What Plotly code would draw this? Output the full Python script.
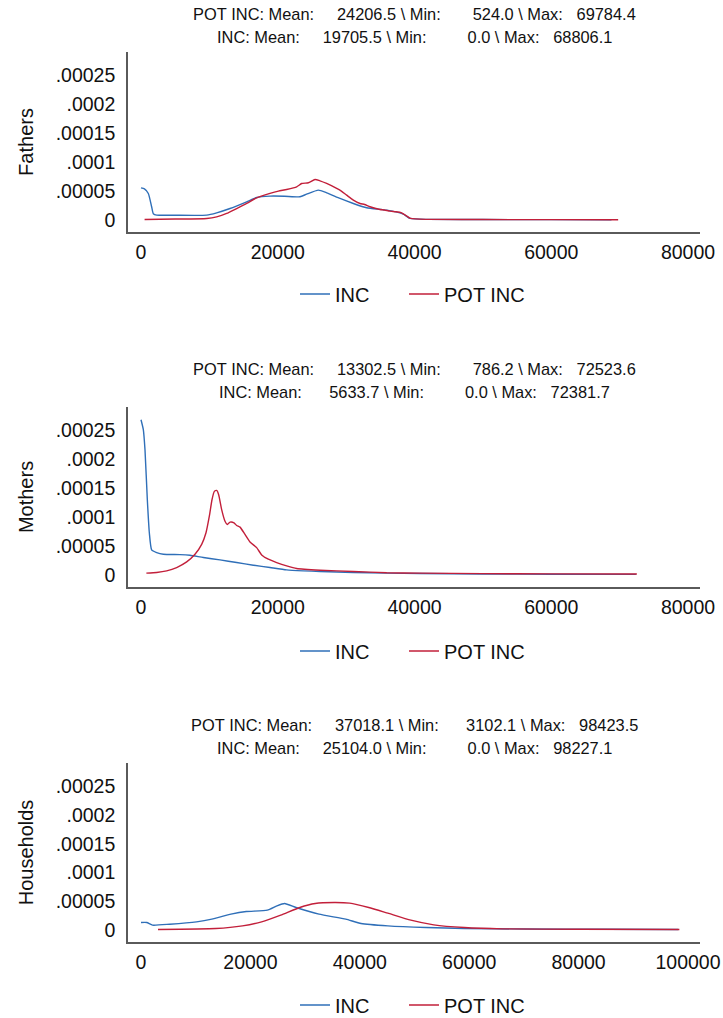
import plotly.graph_objects as go

W, H = 723, 1018

panel_names = ["Fathers", "Mothers", "Households"]

# ---- Fathers ----
fathers_inc_x = [0, 500, 1072, 1560, 1804, 2300, 5000, 9604, 11067, 13016, 15454, 16917, 18866, 21000, 23254, 24229,
                 25935, 27154, 29104, 31054, 33004, 35929, 38366, 39341, 42000, 50000, 60000, 68806.1]
fathers_inc_y = [5.57e-5, 5.4e-5, 4.6e-5, 2.3e-5, 1.1e-5, 8.6e-6, 8.4e-6, 8.6e-6, 1.26e-5, 2.0e-5, 3.16e-5, 3.9e-5,
                 4.14e-5, 4.12e-5, 4.02e-5, 4.48e-5, 5.17e-5, 4.71e-5, 3.74e-5, 2.87e-5, 2.13e-5, 1.72e-5, 1.03e-5,
                 2.9e-6, 1.2e-6, 1.0e-6, 8e-7, 7e-7]
fathers_pot_x = [524.0, 5000, 9604, 11067, 12529, 13991, 15454, 16917, 18866, 20100, 21304, 22767, 23498, 24473,
                 25448, 26179, 27154, 28616, 29300, 30079, 31054, 32029, 32700, 33491, 34954, 35600, 36416, 37300,
                 38123, 39439, 42000, 50000, 60000, 69784.4]
fathers_pot_y = [1.1e-6, 1.8e-6, 2.9e-6, 5.7e-6, 1.15e-5, 2.0e-5, 2.87e-5, 3.85e-5, 4.6e-5, 5.0e-5, 5.29e-5, 5.75e-5,
                 6.32e-5, 6.44e-5, 7.01e-5, 6.78e-5, 6.32e-5, 5.46e-5, 5.0e-5, 4.31e-5, 3.45e-5, 2.87e-5, 2.7e-5,
                 2.3e-5, 1.84e-5, 1.75e-5, 1.55e-5, 1.45e-5, 1.26e-5, 2.9e-6, 1.2e-6, 1.0e-6, 8e-7, 7e-7]

# ---- Mothers ----
mothers_inc_x = [0, 341, 585, 926, 1218, 1560, 2292, 3266, 5704, 7167, 9117, 11554, 13991, 16429, 18866, 21304,
                 23741, 26179, 31054, 35929, 40804, 50000, 60000, 72381.7]
mothers_inc_y = [2.68e-4, 2.51e-4, 2.16e-4, 1.30e-4, 7.3e-5, 4.34e-5, 3.88e-5, 3.6e-5, 3.54e-5, 3.42e-5, 3.03e-5,
                 2.63e-5, 2.17e-5, 1.71e-5, 1.31e-5, 9.1e-6, 7.4e-6, 6.3e-6, 4.6e-6, 3.4e-6, 2.8e-6, 2.0e-6,
                 1.6e-6, 1.2e-6]
mothers_pot_x = [786.2, 2292, 3754, 5216, 6679, 7898, 8873, 9507, 9994, 10384, 10725, 11067, 11359, 11798, 12285,
                 12626, 13016, 13601, 13991, 14479, 15210, 15941, 16917, 17648, 18623, 19841, 21304, 22767, 26179,
                 31054, 35929, 40804, 50000, 60000, 72523.6]
mothers_pot_y = [3.4e-6, 4.6e-6, 7.4e-6, 1.31e-5, 2.28e-5, 3.6e-5, 5.31e-5, 7.31e-5, 1.016e-4, 1.30e-4, 1.444e-4,
                 1.461e-4, 1.387e-4, 1.13e-4, 9.3e-5, 8.73e-5, 9.13e-5, 9.02e-5, 8.56e-5, 8.28e-5, 7.02e-5,
                 5.71e-5, 4.74e-5, 3.48e-5, 2.74e-5, 2.17e-5, 1.6e-5, 1.14e-5, 8.5e-6, 6.3e-6, 4.0e-6, 3.4e-6,
                 2.5e-6, 2.2e-6, 2.0e-6]

# ---- Households ----
households_inc_x = [0, 1058, 2108, 5256, 10153, 12951, 16450, 19249, 23092, 24842, 26242, 28340, 32541, 37437,
                    40236, 45133, 52128, 59120, 70000, 85000, 98227.1]
households_inc_y = [1.33e-5, 1.33e-5, 8.7e-6, 1.04e-5, 1.45e-5, 1.91e-5, 2.78e-5, 3.24e-5, 3.47e-5, 4.22e-5,
                    4.63e-5, 3.94e-5, 2.78e-5, 1.91e-5, 1.16e-5, 7.5e-6, 4.6e-6, 2.9e-6, 2.0e-6, 1.5e-6, 1.3e-6]
households_pot_x = [3102.1, 13650, 18550, 22047, 25543, 29042, 31839, 35341, 38139, 41638, 45133, 49333, 53529,
                    59120, 66121, 80000, 98423.5]
households_pot_y = [1.2e-6, 2.9e-6, 7.5e-6, 1.45e-5, 2.6e-5, 3.94e-5, 4.63e-5, 4.8e-5, 4.69e-5, 3.94e-5, 2.95e-5,
                    1.74e-5, 9.3e-6, 4.6e-6, 2.3e-6, 1.5e-6, 1.2e-6]

inc_x = [fathers_inc_x, mothers_inc_x, households_inc_x]
inc_y = [fathers_inc_y, mothers_inc_y, households_inc_y]
pot_x = [fathers_pot_x, mothers_pot_x, households_pot_x]
pot_y = [fathers_pot_y, mothers_pot_y, households_pot_y]

# summary statistics shown above each panel
pot_mean = [24206.5, 13302.5, 37018.1]
pot_min = [524.0, 786.2, 3102.1]
pot_max = [69784.4, 72523.6, 98423.5]
inc_mean = [19705.5, 5633.7, 25104.0]
inc_min = [0.0, 0.0, 0.0]
inc_max = [68806.1, 72381.7, 98227.1]

x_tickvals = [[0, 20000, 40000, 60000, 80000],
              [0, 20000, 40000, 60000, 80000],
              [0, 20000, 40000, 60000, 80000, 100000]]
y_tickvals = [0, 0.00005, 0.0001, 0.00015, 0.0002, 0.00025]
y_ticktext = ["0", ".00005", ".0001", ".00015", ".0002", ".00025"]

series_names = ["INC", "POT INC"]
colors = ["#2f6fb8", "#c21f3a"]

# ---- layout geometry (pixels) ----
plot_left, plot_right = 128, 700
panel_px = [(52, 232), (407, 587), (763, 942)]
x_ranges = [[-1901, 81755], [-1901, 81755], [-2377, 102194]]
y_range = [-0.0000205, 0.00029]
legend_px = [294, 651, 1005]

FONT = "Liberation Sans, Arial, sans-serif"

fig = go.Figure()
layout = dict(
    width=W, height=H,
    margin=dict(l=0, r=0, t=0, b=0, autoexpand=False),
    paper_bgcolor="white", plot_bgcolor="white",
    font=dict(family=FONT, size=20, color="#111111"),
    showlegend=True,
    annotations=[],
)


def fmt(v):
    return f"{v:9.1f}"


for i in range(3):
    ax = "" if i == 0 else str(i + 1)
    leg = "legend" if i == 0 else f"legend{i + 1}"
    top, bot = panel_px[i]
    for s, (xs, ys) in enumerate([(inc_x[i], inc_y[i]), (pot_x[i], pot_y[i])]):
        fig.add_trace(go.Scatter(
            x=xs, y=ys, mode="lines", name=series_names[s],
            line=dict(color=colors[s], width=1.4, shape="spline", smoothing=0.5),
            xaxis="x" + ax, yaxis="y" + ax, legend=leg,
            legendwidth=64 if s == 0 else 130,
        ))
    layout["xaxis" + ax] = dict(
        domain=[plot_left / W, plot_right / W], anchor="y" + ax,
        range=x_ranges[i], tickvals=x_tickvals[i],
        ticktext=[str(v) for v in x_tickvals[i]],
        showgrid=False, zeroline=False, showline=True, linecolor="#5a5a5a", linewidth=1.6,
        ticks="outside", ticklen=2, tickcolor="rgba(0,0,0,0)", automargin=False,
        tickfont=dict(size=19.5, family=FONT, color="#111111"),
    )
    layout["yaxis" + ax] = dict(
        domain=[1 - bot / H, 1 - top / H], anchor="x" + ax,
        range=y_range, tickvals=y_tickvals, ticktext=y_ticktext,
        showgrid=False, zeroline=False, showline=True, linecolor="#5a5a5a", linewidth=1.6,
        ticks="outside", ticklen=7, tickcolor="rgba(0,0,0,0)", automargin=False,
        tickfont=dict(size=19.5, family=FONT, color="#111111"),
        title=dict(text=panel_names[i], font=dict(size=20, family=FONT, color="#111111"), standoff=17),
    )
    layout[leg] = dict(
        orientation="h", x=295 / W, xanchor="left", y=1 - legend_px[i] / H, yanchor="middle",
        font=dict(size=20, family=FONT, color="#111111"), bgcolor="rgba(0,0,0,0)",
        entrywidthmode="pixels", borderwidth=0,
    )
    line1 = (f"POT INC: Mean:   {fmt(pot_mean[i])} \\ Min:   {fmt(pot_min[i])} \\ Max: {fmt(pot_max[i])}")
    line2 = (f"INC: Mean:   {fmt(inc_mean[i])} \\ Min:   {fmt(inc_min[i])} \\ Max: {fmt(inc_max[i])}")
    cx = (plot_left + plot_right) / 2 / W
    for txt, dy in [(line1, 38), (line2, 15)]:
        layout["annotations"].append(dict(
            text=txt.replace(" ", "\u00a0"), x=cx, y=1 - (top - dy) / H,
            xref="paper", yref="paper", xanchor="center", yanchor="middle",
            showarrow=False, font=dict(size=16.4, family=FONT, color="#111111"),
        ))

fig.update_layout(**layout)
fig.write_html("out.html", config={"displayModeBar": False},
               post_script="document.body.style.margin='0';")
